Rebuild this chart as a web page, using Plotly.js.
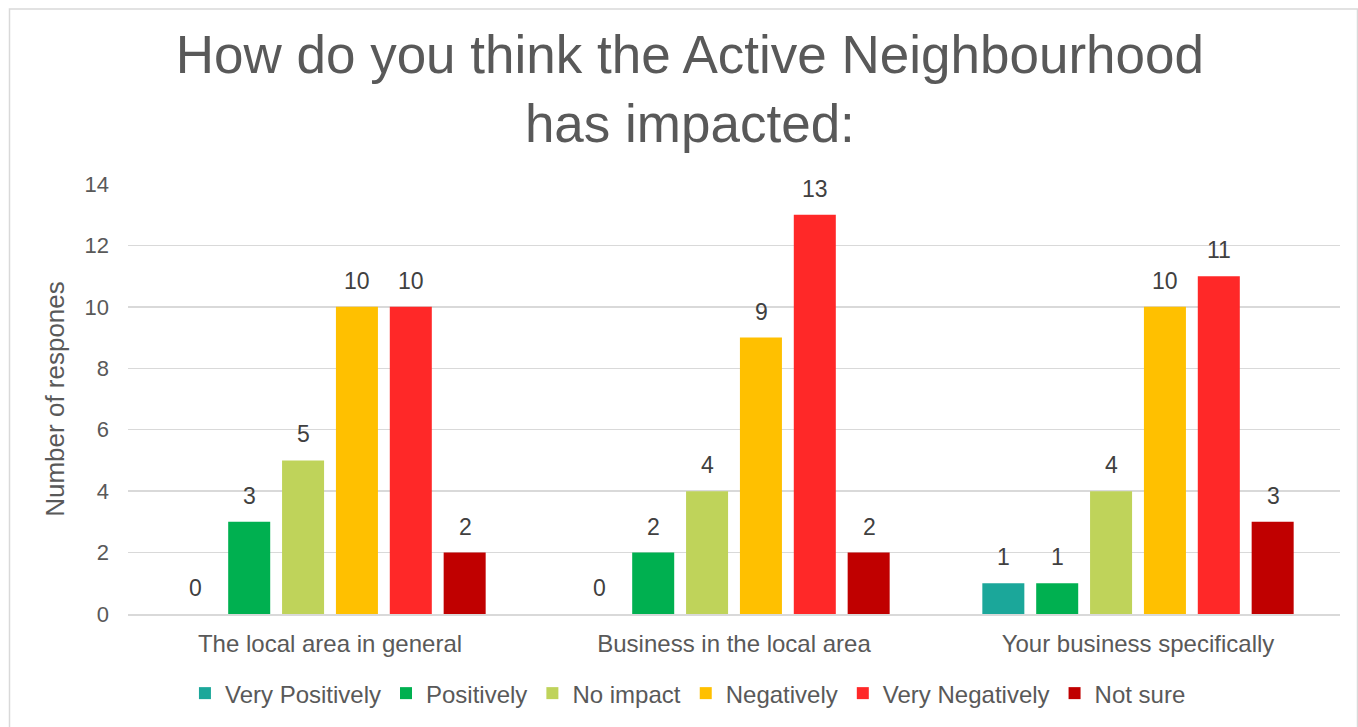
<!DOCTYPE html>
<html><head><meta charset="utf-8">
<script src="https://cdn.plot.ly/plotly-3.0.1.min.js"></script>
<style>html,body{margin:0;padding:0;background:#fff}#c{width:1358px;height:727px}</style>
</head><body><div id="c"></div>
<script>
const categories = ["The local area in general", "Business in the local area", "Your business specifically"];
const seriesNames = ["Very Positively", "Positively", "No impact", "Negatively", "Very Negatively", "Not sure"];
const veryPositively = [0, 0, 1];
const positively = [3, 2, 1];
const noImpact = [5, 4, 4];
const negatively = [10, 9, 10];
const veryNegatively = [10, 13, 11];
const notSure = [2, 2, 3];
const colors = ["#1BA79A", "#00B050", "#BFD35A", "#FFC000", "#FF2828", "#C00000"];
const yTicks = [0, 2, 4, 6, 8, 10, 12, 14];

const values = [veryPositively, positively, noImpact, negatively, veryNegatively, notSure];
const font = "Liberation Sans, Arial, sans-serif";
const traces = values.map((v, i) => ({
  type: "bar", name: seriesNames[i], x: categories, y: v,
  marker: {color: colors[i]}, hoverinfo: "none"
}));

const L = 128, R = 1340, T = 184, B = 615;
const pw = R - L, ph = B - T;
const slot = 54; // pixel width of one bar slot in a group
const annotations = [];
values.forEach((v, i) => v.forEach((val, j) => annotations.push({
  x: categories[j], y: val, xref: "x", yref: "y", text: String(val), showarrow: false,
  xanchor: "center", yanchor: "bottom", xshift: (i - 2.5) * slot, yshift: 11,
  font: {family: font, size: 23, color: "#404040"}
})));

const layout = {
  width: 1358, height: 727,
  margin: {l: L, r: 1358 - R, t: T, b: 727 - B},
  paper_bgcolor: "#fff", plot_bgcolor: "#fff",
  font: {family: font, color: "#595959"},
  title: {text: "How do you think the Active Neighbourhood<br>has impacted:", font: {family: font, size: 53, color: "#595959"},
    x: 0.508, xanchor: "center", yref: "container", y: 1 - 73 / 727, yanchor: "middle"},
  barmode: "group", bargap: 0.2, bargroupgap: 0.22,
  xaxis: {tickfont: {family: font, size: 24, color: "#595959"}, showline: true, linecolor: "#d9d9d9", linewidth: 2,
    ticks: "", showgrid: false, fixedrange: true, ticklabelstandoff: 7},
  yaxis: {range: [0, 14], tickvals: yTicks, ticktext: yTicks.map(String), tickfont: {family: font, size: 22, color: "#595959"},
    gridcolor: "#d9d9d9", gridwidth: 1.5, zeroline: false, ticks: "", fixedrange: true, ticklabelstandoff: 18,
    title: {text: "Number of respones", font: {family: font, size: 26, color: "#595959"}, standoff: 12}},
  legend: {orientation: "h", x: 0.462, xanchor: "center", y: -0.13, yanchor: "top", font: {family: font, size: 24, color: "#595959"}, itemwidth: 30, traceorder: "normal"},
  annotations: annotations,
  shapes: [{type: "rect", xref: "paper", yref: "paper",
    x0: (9.5 - L) / pw, x1: (1357.5 - L) / pw, y0: (B - 740) / ph, y1: (B - 8.5) / ph,
    line: {color: "#d9d9d9", width: 1.5}, fillcolor: "rgba(0,0,0,0)", layer: "below"}],
  showlegend: true
};
Plotly.newPlot("c", traces, layout, {displayModeBar: false, staticPlot: true});
</script></body></html>
